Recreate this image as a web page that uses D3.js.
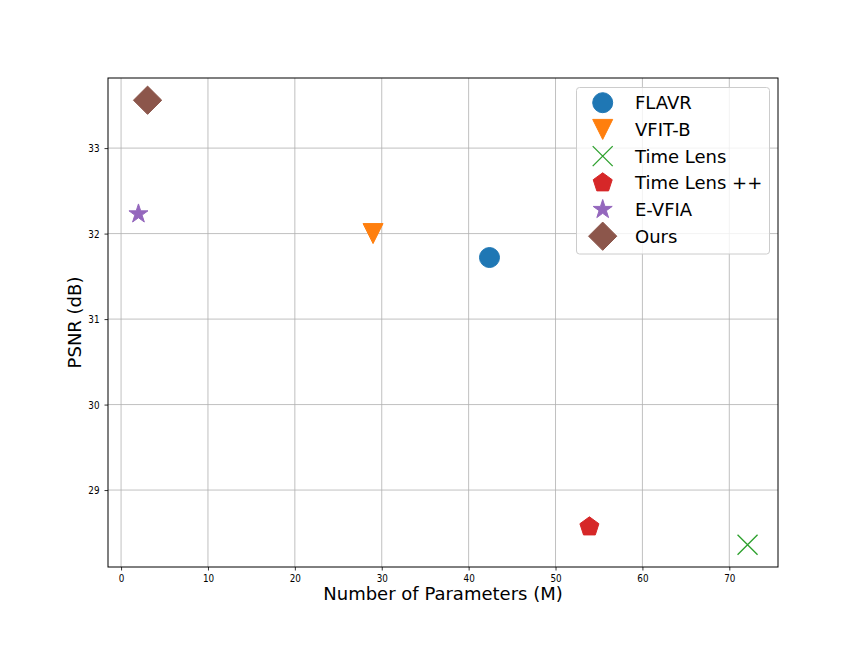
<!DOCTYPE html>
<html>
<head>
<meta charset="utf-8">
<script src="https://cdn.jsdelivr.net/npm/d3@7"></script>
<style>
    html, body { margin: 0; padding: 0; background: #fff; }
    #chart { width: 864px; height: 648px; }
    text { font-family: "DejaVu Sans", sans-serif; fill: #000; }
</style>
</head>
<body>
<div id="chart"></div>
<script>
// data
var methods = ['FLAVR', 'VFIT-B', 'Time Lens', 'Time Lens ++', 'E-VFIA', 'Ours'];
var params = [42.4, 29.0, 72.1, 53.9, 2.0, 3.05];
var psnr = [31.72, 32.0, 28.36, 28.57, 32.23, 33.56];
var markers = ['o', 'v', 'x', 'p', '*', 'D'];
var colors = ['#1f77b4', '#ff7f0e', '#2ca02c', '#d62728', '#9467bd', '#8c564b'];
var xTicks = [0, 10, 20, 30, 40, 50, 60, 70];
var yTicks = [29, 30, 31, 32, 33];

(function () {
    var width = 864, height = 648;
    var left = 108, right = 778, top = 78, bottom = 567;

    var svg = d3.select('#chart').append('svg')
        .attr('width', width)
        .attr('height', height);

    // matplotlib style 5% margins around the data
    var pad = function (ext) {
        var m = (ext[1] - ext[0]) * 0.05;
        return [ext[0] - m, ext[1] + m];
    };
    var x = d3.scaleLinear().domain(pad(d3.extent(params))).range([left, right]);
    var y = d3.scaleLinear().domain(pad(d3.extent(psnr))).range([bottom, top]);

    // grid
    var grid = svg.append('g').classed('grid', true);
    grid.selectAll('line.gx')
        .data(xTicks)
        .enter()
        .append('line')
        .attr('x1', function (d) { return x(d); })
        .attr('x2', function (d) { return x(d); })
        .attr('y1', top)
        .attr('y2', bottom)
        .attr('stroke', '#b0b0b0')
        .attr('stroke-width', 0.8);
    grid.selectAll('line.gy')
        .data(yTicks)
        .enter()
        .append('line')
        .attr('y1', function (d) { return y(d); })
        .attr('y2', function (d) { return y(d); })
        .attr('x1', left)
        .attr('x2', right)
        .attr('stroke', '#b0b0b0')
        .attr('stroke-width', 0.8);

    // axes
    var fmt = d3.format('d');
    var xAxis = svg.append('g')
        .attr('transform', 'translate(0,' + bottom + ')')
        .call(d3.axisBottom(x).tickValues(xTicks).tickFormat(fmt)
            .tickSize(3.5).tickPadding(3.5).tickSizeOuter(0));
    var yAxis = svg.append('g')
        .attr('transform', 'translate(' + left + ',0)')
        .call(d3.axisLeft(y).tickValues(yTicks).tickFormat(fmt)
            .tickSize(3.5).tickPadding(3.5).tickSizeOuter(0));
    [xAxis, yAxis].forEach(function (a) {
        a.select('.domain').remove();
        a.selectAll('.tick line').attr('stroke', '#000').attr('stroke-width', 0.8);
        a.selectAll('.tick text')
            .style('font-family', '"DejaVu Sans", sans-serif')
            .style('font-size', '11px')
            .attr('fill', '#000');
    });
    // tick labels in the picture are narrow
    xAxis.selectAll('.tick text').attr('transform', 'scale(0.8,1)');
    yAxis.selectAll('.tick text').attr('x', -8.5 / 0.8).attr('transform', 'scale(0.8,1)');

    // frame
    svg.append('rect')
        .attr('x', left)
        .attr('y', top)
        .attr('width', right - left)
        .attr('height', bottom - top)
        .attr('fill', 'none')
        .attr('stroke', '#000')
        .attr('stroke-width', 1);

    // marker shapes, s = half marker size
    var markerPath = function (type, s) {
        var p = d3.path(), i, a, r;
        if (type === 'o') {
            p.arc(0, 0, s, 0, 2 * Math.PI);
            p.closePath();
        } else if (type === 'v') {
            p.moveTo(-s, -s); p.lineTo(s, -s); p.lineTo(0, s); p.closePath();
        } else if (type === 'x') {
            p.moveTo(-s, -s); p.lineTo(s, s);
            p.moveTo(-s, s); p.lineTo(s, -s);
        } else if (type === 'p') {
            for (i = 0; i < 5; i++) {
                a = -Math.PI / 2 + i * 2 * Math.PI / 5;
                if (i === 0) p.moveTo(s * Math.cos(a), s * Math.sin(a));
                else p.lineTo(s * Math.cos(a), s * Math.sin(a));
            }
            p.closePath();
        } else if (type === '*') {
            for (i = 0; i < 10; i++) {
                a = -Math.PI / 2 + i * Math.PI / 5;
                r = i % 2 ? s * 0.381966 : s;
                if (i === 0) p.moveTo(r * Math.cos(a), r * Math.sin(a));
                else p.lineTo(r * Math.cos(a), r * Math.sin(a));
            }
            p.closePath();
        } else if (type === 'D') {
            r = s * Math.SQRT2;
            p.moveTo(0, -r); p.lineTo(r, 0); p.lineTo(0, r); p.lineTo(-r, 0); p.closePath();
        }
        return p.toString();
    };
    var drawMarker = function (sel, i) {
        var isLine = markers[i] === 'x';
        sel.append('path')
            .attr('d', markerPath(markers[i], 10))
            .attr('fill', isLine ? 'none' : colors[i])
            .attr('stroke', colors[i])
            .attr('stroke-width', isLine ? 1.3 : 1);
    };

    // points
    var pts = svg.append('g').classed('points', true);
    methods.forEach(function (m, i) {
        var g = pts.append('g')
            .attr('transform', 'translate(' + x(params[i]) + ',' + y(psnr[i]) + ')');
        drawMarker(g, i);
    });

    // axis labels
    svg.append('text')
        .attr('x', (left + right) / 2)
        .attr('y', 600)
        .style('text-anchor', 'middle')
        .style('font-size', '18px')
        .text('Number of Parameters (M)');
    svg.append('text')
        .attr('transform', 'translate(80.5,' + (top + bottom) / 2 + ') rotate(-90)')
        .style('text-anchor', 'middle')
        .style('font-size', '18px')
        .text('PSNR (dB)');

    // legend
    var legend = svg.append('g').classed('legend', true);
    legend.append('rect')
        .attr('x', 576.5)
        .attr('y', 87.5)
        .attr('width', 193)
        .attr('height', 166.5)
        .attr('rx', 3)
        .attr('fill', '#fff')
        .attr('fill-opacity', 0.8)
        .attr('stroke', '#cccccc')
        .attr('stroke-width', 1);
    methods.forEach(function (m, i) {
        var cy = 102.7 + i * 26.7;
        var g = legend.append('g')
            .attr('transform', 'translate(602.7,' + cy + ')');
        drawMarker(g, i);
        legend.append('text')
            .attr('x', 635)
            .attr('y', cy + 6.5)
            .style('font-size', '18px')
            .text(m);
    });
})();
</script>
</body>
</html>
